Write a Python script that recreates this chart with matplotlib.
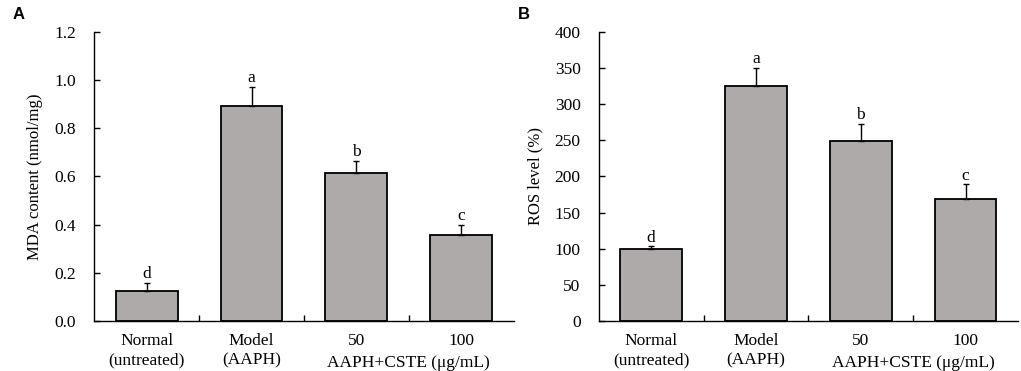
import matplotlib.pyplot as plt
import numpy as np

# data
groups = ["Normal\n(untreated)", "Model\n(AAPH)", "50", "100"]
mda_vals = [0.125, 0.895, 0.615, 0.356]
mda_err = [0.031, 0.076, 0.049, 0.041]
mda_sig = ["d", "a", "b", "c"]
ros_vals = [100, 326, 249.6, 169]
ros_err = [3, 24, 23.6, 20]
ros_sig = ["d", "a", "b", "c"]
dose_label = "AAPH+CSTE (\u03bcg/mL)"

plt.rcParams['font.family'] = ['Liberation Serif', 'DejaVu Serif']
bar_color = "#aeaaaa"
fs = 12.5


def panel(ax, vals, errs, sig, ylim, yticks, yfmt, ylabel, letter):
    x = np.arange(len(vals))
    ax.bar(x, vals, width=0.59, color=bar_color, edgecolor="black", linewidth=1.3, zorder=2)
    ax.errorbar(x, vals, yerr=[np.zeros(len(errs)), errs], fmt="none", ecolor="black",
                elinewidth=1.0, capsize=2.5, capthick=1.0, zorder=3)
    pad = (ylim[1] - ylim[0]) * 0.003
    for xi, v, e, s in zip(x, vals, errs, sig):
        ax.text(xi, v + e + pad, s, ha="center", va="bottom", fontsize=fs)
    ax.set_xlim(-0.5, 3.5)
    ax.set_ylim(*ylim)
    ax.set_yticks(yticks)
    ax.set_yticklabels([yfmt.format(t) for t in yticks], fontsize=fs)
    ax.set_xticks(x)
    ax.set_xticklabels(groups, fontsize=fs, linespacing=1.25)
    ax.tick_params(axis="x", which="major", length=0, pad=9)
    ax.set_xticks([0.5, 1.5, 2.5], minor=True)
    ax.tick_params(axis="x", which="minor", direction="in", length=4, width=1)
    ax.tick_params(axis="y", direction="in", length=4, width=1, pad=13)
    for side in ["top", "right"]:
        ax.spines[side].set_visible(False)
    for side in ["left", "bottom"]:
        ax.spines[side].set_linewidth(1.0)
    ax.set_ylabel(ylabel, fontsize=12, labelpad=8)
    ax.text(2.5, -0.148, dose_label, transform=ax.get_xaxis_transform(),
            ha="center", va="center", fontsize=fs)
    ax.text(-0.194, 1.06, letter, transform=ax.transAxes, fontsize=12,
            fontweight="bold", family="Liberation Sans", ha="left", va="center")


fig = plt.figure(figsize=(10.21, 3.71), dpi=100)
ax1 = fig.add_axes([0.0924, 0.1356, 0.4106, 0.7774])
ax2 = fig.add_axes([0.5864, 0.1356, 0.4106, 0.7774])

panel(ax1, mda_vals, mda_err, mda_sig, (0, 1.2), np.arange(0, 1.21, 0.2), "{:.1f}",
      "MDA content (nmol/mg)", "A")
panel(ax2, ros_vals, ros_err, ros_sig, (0, 400), np.arange(0, 401, 50), "{:.0f}",
      "ROS level (%)", "B")

fig.savefig("out.png", dpi=100)
